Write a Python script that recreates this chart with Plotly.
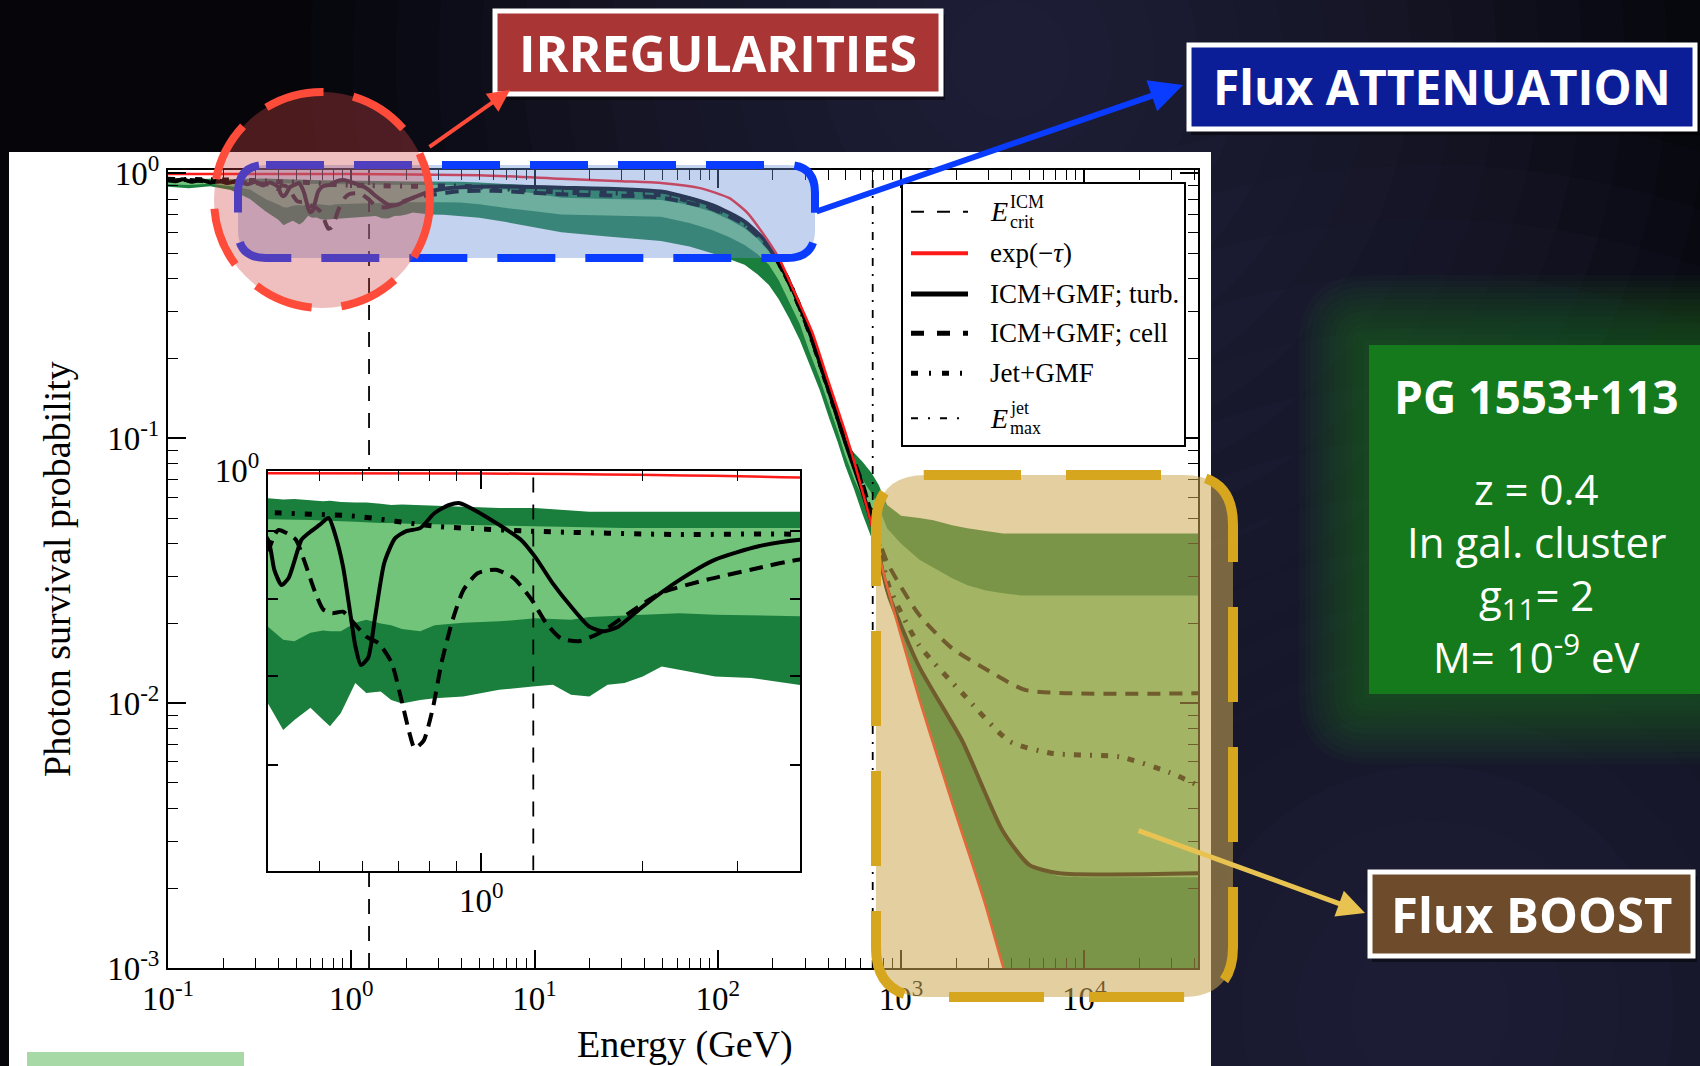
import numpy as np
import plotly.graph_objects as go

W, H = 1700, 1066

# ------------------------------------------------------------------ data
# photon survival probability bands (68% / 95%) vs energy [GeV]
E_band = [0.1, 0.13, 0.17, 0.22, 0.28, 0.34,
          0.40, 0.427, 0.448, 0.48, 0.507, 0.522, 0.547, 0.582, 0.61, 0.649,
          0.679, 0.711, 0.769, 0.818, 0.925, 1.08, 1.26, 1.36, 1.47, 1.59,
          1.72, 1.85, 2.0, 2.17, 2.34, 2.73, 3.19, 3.93,
          5, 7, 10, 14, 25, 49, 70, 93, 115, 140,
          165, 190, 215, 245, 280, 316, 360, 405, 450, 495,
          555, 614, 690, 755, 840, 1000, 1260, 1500, 1900, 2300,
          2900, 3600, 4500, 5500, 7300, 10000, 15000, 25000, 42000]
band95_hi = [0.955, 0.95, 0.955, 0.95, 0.955, 0.958,
             0.953, 0.951, 0.952, 0.95, 0.948, 0.949, 0.947, 0.946, 0.946, 0.944,
             0.942, 0.943, 0.942, 0.941, 0.94, 0.937, 0.937, 0.935, 0.932, 0.931,
             0.931, 0.931, 0.931, 0.932, 0.932, 0.932, 0.932, 0.931,
             0.925, 0.915, 0.90, 0.88, 0.868, 0.854, 0.82, 0.772, 0.72, 0.667,
             0.60, 0.537, 0.47, 0.396, 0.32, 0.253, 0.195, 0.15, 0.12, 0.097,
             0.088, 0.0817, 0.074, 0.0667, 0.056, 0.051, 0.050, 0.049, 0.047, 0.0457,
             0.0447, 0.0437, 0.0437, 0.0437, 0.0437, 0.0437, 0.0437, 0.0437, 0.0437]
band68_hi = [0.94, 0.935, 0.94, 0.935, 0.935, 0.93,
             0.919, 0.919, 0.918, 0.918, 0.917, 0.917, 0.916, 0.915, 0.914, 0.913,
             0.913, 0.912, 0.911, 0.911, 0.91, 0.909, 0.908, 0.907, 0.906, 0.906,
             0.905, 0.905, 0.905, 0.905, 0.905, 0.905, 0.905, 0.905,
             0.89, 0.87, 0.84, 0.81, 0.80, 0.794, 0.76, 0.717, 0.67, 0.621,
             0.565, 0.507, 0.445, 0.374, 0.305, 0.242, 0.187, 0.146, 0.117, 0.094,
             0.08, 0.07, 0.062, 0.055, 0.0456, 0.040, 0.0348, 0.0324, 0.0296, 0.0279,
             0.0266, 0.026, 0.0255, 0.0255, 0.0255, 0.0255, 0.0255, 0.0255, 0.0255]
band68_lo = [0.91, 0.905, 0.915, 0.895, 0.87, 0.80,
             0.763, 0.746, 0.744, 0.755, 0.758, 0.757, 0.757, 0.768, 0.772, 0.767,
             0.765, 0.76, 0.757, 0.765, 0.768, 0.77, 0.774, 0.773, 0.772, 0.776,
             0.777, 0.778, 0.779, 0.78, 0.781, 0.779, 0.778, 0.777,
             0.765, 0.74, 0.72, 0.70, 0.694, 0.687, 0.65, 0.612, 0.575, 0.537,
             0.495, 0.452, 0.395, 0.328, 0.27, 0.212, 0.168, 0.132, 0.107, 0.0865,
             0.07, 0.06, 0.048, 0.04, 0.028, 0.0195, 0.0135, 0.0108, 0.0082, 0.0064,
             0.0045, 0.0033, 0.0027, 0.00235, 0.00222, 0.0022, 0.0022, 0.0022, 0.0022]
band95_lo = [0.89, 0.88, 0.895, 0.865, 0.80, 0.72,
             0.668, 0.638, 0.649, 0.663, 0.649, 0.642, 0.657, 0.692, 0.68, 0.682,
             0.672, 0.668, 0.672, 0.674, 0.676, 0.684, 0.688, 0.69, 0.678, 0.676,
             0.69, 0.692, 0.70, 0.712, 0.708, 0.70, 0.698, 0.69,
             0.68, 0.655, 0.625, 0.60, 0.578, 0.556, 0.53, 0.50, 0.475, 0.452,
             0.415, 0.379, 0.335, 0.284, 0.235, 0.189, 0.152, 0.119, 0.097, 0.079,
             0.064, 0.052, 0.042, 0.034, 0.025, 0.0182, 0.0105, 0.0072, 0.0042, 0.0028,
             0.0017, 0.001, 0.0006, 0.0004, 0.0003, 0.0003, 0.0003, 0.0003, 0.0003]

# exp(-tau)
E_tau = [0.1, 1, 5, 14, 30, 49, 80, 115, 145, 174, 215, 260, 327, 400, 495, 562,
         680, 820, 1000, 1260, 1600, 1900, 2400, 2900, 3650, 4500]
P_tau = [0.996, 0.995, 0.985, 0.955, 0.935, 0.921, 0.88, 0.808, 0.71, 0.601, 0.48, 0.36,
         0.252, 0.165, 0.106, 0.079, 0.049, 0.0292, 0.0179, 0.0103, 0.0061, 0.0042,
         0.00257, 0.00171, 0.00098, 0.00063]

# ICM+GMF; turb.
E_turb = [0.1, 0.11, 0.12, 0.135, 0.15, 0.17, 0.19, 0.21, 0.24, 0.27, 0.30, 0.33, 0.36,
          0.40, 0.411, 0.424, 0.437, 0.462, 0.476, 0.499, 0.519, 0.535, 0.552,
          0.573, 0.582, 0.596, 0.615, 0.634, 0.659, 0.69, 0.723, 0.769, 0.818,
          0.871, 0.912, 0.97, 1.08, 1.185, 1.26, 1.36, 1.47, 1.59, 1.69,
          1.80, 2.0, 2.34, 2.73, 3.29, 3.93,
          6, 14, 49, 93, 140, 190, 245, 316, 405, 495,
          614, 713, 840, 1250, 2160, 3580, 5000, 7300, 42000]
P_turb = [0.945, 0.935, 0.95, 0.93, 0.945, 0.925, 0.94, 0.92, 0.935, 0.91, 0.93, 0.90, 0.925,
          0.887, 0.842, 0.82, 0.83, 0.887, 0.897, 0.91, 0.921, 0.892, 0.847,
          0.768, 0.738, 0.714, 0.723, 0.777, 0.852, 0.889, 0.90, 0.905, 0.929,
          0.942, 0.945, 0.934, 0.91, 0.887, 0.861, 0.822, 0.79, 0.763, 0.757,
          0.763, 0.79, 0.827, 0.857, 0.877, 0.887,
          0.893, 0.884, 0.854, 0.76, 0.658, 0.537, 0.39, 0.253, 0.15, 0.097,
          0.063, 0.0445, 0.0267, 0.0138, 0.00718, 0.0033, 0.00245, 0.00228, 0.00228]

# ICM+GMF; cell
E_cell = [0.1, 0.13, 0.17, 0.22, 0.28, 0.34, 0.37,
          0.40, 0.41, 0.418, 0.434, 0.451, 0.469, 0.488, 0.507, 0.527, 0.552,
          0.578, 0.61, 0.644, 0.68, 0.712, 0.734, 0.751, 0.78, 0.811, 0.843,
          0.884, 0.926, 0.984, 1.064, 1.149, 1.24, 1.32, 1.405, 1.52, 1.665,
          1.885, 2.165, 2.645, 3.18, 3.93,
          6, 14, 49, 93, 140, 190, 245, 316, 405, 495,
          614, 713, 840, 1250, 1900, 3150, 4800, 42000]
P_cell = [0.94, 0.945, 0.93, 0.935, 0.92, 0.915, 0.89,
          0.872, 0.892, 0.902, 0.897, 0.887, 0.852, 0.813, 0.786, 0.781, 0.783,
          0.768, 0.75, 0.741, 0.717, 0.668, 0.635, 0.618, 0.626, 0.661, 0.717,
          0.772, 0.813, 0.837, 0.842, 0.83, 0.80, 0.768, 0.748, 0.744, 0.755,
          0.781, 0.809, 0.828, 0.842, 0.857,
          0.86, 0.835, 0.81, 0.735, 0.64, 0.525, 0.385, 0.25, 0.15, 0.10,
          0.068, 0.047, 0.034, 0.0216, 0.0161, 0.013, 0.0112, 0.0109]

# Jet+GMF
E_jet = [0.1, 0.2, 0.3, 0.40, 0.58, 0.82, 1.26, 2.34, 3.93,
         14, 49, 93, 140, 190, 245, 316, 405, 495,
         614, 713, 860, 1250, 2160, 3900, 6700, 15600, 29000, 42000]
P_jet = [0.95, 0.945, 0.94, 0.93, 0.924, 0.908, 0.90, 0.895, 0.895,
         0.85, 0.83, 0.745, 0.645, 0.53, 0.388, 0.252, 0.15, 0.099,
         0.066, 0.047, 0.0275, 0.0166, 0.0109, 0.00718, 0.00646, 0.00627, 0.00548, 0.00488]

E_crit_ICM = 1.25      # GeV
E_max_jet = 700.0      # GeV

x_ticks = [0.1, 1, 10, 100, 1000, 10000]
x_ticktext = ["10<sup>-1</sup>", "10<sup>0</sup>", "10<sup>1</sup>", "10<sup>2</sup>",
              "10<sup>3</sup>", "10<sup>4</sup>"]
y_ticks = [0.001, 0.01, 0.1, 1]
y_ticktext = ["10<sup>-3</sup>", "10<sup>-2</sup>", "10<sup>-1</sup>", "10<sup>0</sup>"]

legend_labels = ["crit", "exp(\u2212<i>\u03c4</i>)", "ICM+GMF; turb.",
                 "ICM+GMF; cell", "Jet+GMF", "max"]

# ------------------------------------------------------------------ layout helpers
def px(x):
    return x / W


def py(y):
    return 1 - y / H


XR = [-1, 4.62]
YR = [-3, 0.013]
IXR = [np.log10(0.4), np.log10(3.93)]
IYR = [np.log10(0.5), 0.0]

DARK = "#1a7f3c"
LIGHT = "#72c47a"
SERIF = "Liberation Serif"
SANS = "Open Sans"

fig = go.Figure()


def add_set(xa, ya, lw, celldash, jetdash, vlines):
    common = dict(xaxis=xa, yaxis=ya, hoverinfo="skip", showlegend=False)
    fig.add_trace(go.Scatter(x=E_band, y=band95_lo, mode="lines",
                             line=dict(width=0, color=DARK), **common))
    fig.add_trace(go.Scatter(x=E_band, y=band95_hi, mode="lines", fill="tonexty",
                             fillcolor=DARK, line=dict(width=0, color=DARK), **common))
    fig.add_trace(go.Scatter(x=E_band, y=band68_lo, mode="lines",
                             line=dict(width=0, color=LIGHT), **common))
    fig.add_trace(go.Scatter(x=E_band, y=band68_hi, mode="lines", fill="tonexty",
                             fillcolor=LIGHT, line=dict(width=0, color=LIGHT), **common))
    for xv, dash in vlines:
        yr = YR if ya == "y" else IYR
        fig.add_trace(go.Scatter(x=[xv, xv], y=[10 ** yr[0], 10 ** yr[1]], mode="lines",
                                 line=dict(color="black", width=1.8, dash=dash), **common))
    fig.add_trace(go.Scatter(x=E_jet, y=P_jet, mode="lines",
                             line=dict(color="black", width=lw + 1, dash=jetdash,
                                       shape="spline", smoothing=0.6), **common))
    fig.add_trace(go.Scatter(x=E_cell, y=P_cell, mode="lines",
                             line=dict(color="black", width=lw, dash=celldash,
                                       shape="spline", smoothing=0.6), **common))
    fig.add_trace(go.Scatter(x=E_turb, y=P_turb, mode="lines",
                             line=dict(color="black", width=lw,
                                       shape="spline", smoothing=0.6), **common))
    fig.add_trace(go.Scatter(x=E_tau, y=P_tau, mode="lines",
                             line=dict(color="#ff1a1a", width=2.5,
                                       shape="spline", smoothing=0.6), **common))


add_set("x", "y", 4, "13px,9px", "7px,9px,2px,9px",
        [(E_crit_ICM, "15px,12px"), (E_max_jet, "8px,8px,2px,8px")])
add_set("x2", "y2", 4, "14px,8px", "7px,10px,3px,10px",
        [(E_crit_ICM, "15px,12px")])

minor_main_x = [m * 10.0 ** d for d in range(-1, 5) for m in range(2, 10)]
minor_main_y = [m * 10.0 ** d for d in range(-3, 0) for m in range(2, 10)]
tickfont = dict(family=SERIF, size=33, color="black")
ax_common = dict(type="log", showgrid=False, zeroline=False, showline=True,
                 linecolor="black", linewidth=2, mirror="ticks", ticks="inside",
                 tickcolor="black", tickwidth=1.5, tickfont=tickfont, tickmode="array",
                 automargin=False)

fig.update_layout(
    width=W, height=H, autosize=False,
    margin=dict(l=0, r=0, t=0, b=0, pad=0, autoexpand=False),
    paper_bgcolor="#05050a", plot_bgcolor="white",
    showlegend=False,
    xaxis=dict(**ax_common, domain=[px(168), px(1198)], range=XR, anchor="y",
               tickvals=x_ticks, ticktext=x_ticktext, ticklen=18,
               minor=dict(ticks="inside", ticklen=10, tickmode="array",
                          tickvals=minor_main_x, tickcolor="black", tickwidth=1.2)),
    yaxis=dict(**ax_common, domain=[py(968), py(170)], range=YR, anchor="x",
               tickvals=y_ticks, ticktext=y_ticktext, ticklen=18,
               minor=dict(ticks="inside", ticklen=10, tickmode="array",
                          tickvals=minor_main_y, tickcolor="black", tickwidth=1.2)),
    xaxis2=dict(**ax_common, domain=[px(268), px(800)], range=IXR, anchor="y2",
                tickvals=[1], ticktext=["10<sup>0</sup>"], ticklen=18,
                minor=dict(ticks="inside", ticklen=10, tickmode="array",
                           tickvals=[0.4, 0.5, 0.6, 0.7, 0.8, 0.9, 2, 3],
                           tickcolor="black", tickwidth=1.2)),
    yaxis2=dict(**ax_common, domain=[py(870.6), py(470.5)], range=IYR, anchor="x2",
                tickvals=[0.6, 0.7, 0.8, 0.9, 1.0], ticktext=["", "", "", "", "10<sup>0</sup>"],
                ticklen=10),
)

# ------------------------------------------------------------------ shapes
shapes = []


def rect(x0, y0, x1, y1, fill, line=None, lw=0, layer="above", dash=None):
    d = dict(type="rect", xref="paper", yref="paper", x0=px(x0), x1=px(x1),
             y0=py(y1), y1=py(y0), fillcolor=fill, layer=layer,
             line=dict(width=lw, color=line or fill))
    if dash:
        d["line"]["dash"] = dash
    shapes.append(d)


def rrect_path(x0, y0, x1, y1, r):
    P = lambda x, y: f"{px(x):.5f},{py(y):.5f}"
    return (f"M{P(x0 + r, y0)} L{P(x1 - r, y0)} Q{P(x1, y0)} {P(x1, y0 + r)} "
            f"L{P(x1, y1 - r)} Q{P(x1, y1)} {P(x1 - r, y1)} L{P(x0 + r, y1)} "
            f"Q{P(x0, y1)} {P(x0, y1 - r)} L{P(x0, y0 + r)} Q{P(x0, y0)} {P(x0 + r, y0)} Z")


def circ(cx, cy, r, fill, line=None, lw=0, layer="below", dash=None):
    d = dict(type="circle", xref="paper", yref="paper", x0=px(cx - r), x1=px(cx + r),
             y0=py(cy + r), y1=py(cy - r), fillcolor=fill, layer=layer,
             line=dict(width=lw, color=line or "rgba(0,0,0,0)"))
    if dash:
        d["line"]["dash"] = dash
    shapes.append(d)


# smooth background glows
for r in np.linspace(700, 60, 16):
    circ(1010, 60, r, "rgba(58,54,100,0.05)")
for r in np.linspace(900, 80, 16):
    circ(1430, 1010, r, "rgba(58,54,100,0.055)")
# green glow around info box
for g in np.linspace(70, 5, 12):
    shapes.append(dict(type="path", xref="paper", yref="paper", layer="below",
                       path=rrect_path(1369 - g, 345 - g, 1700 + g, 694 + g, g),
                       fillcolor="rgba(30,125,30,0.06)", line=dict(width=0)))
# white panel behind plot
rect(9, 152, 1211, 1066, "white", layer="below")
rect(27, 1052, 244, 1066, "#a6d9a6", layer="below")
# info box
rect(1369, 345, 1700, 694, "#147a1c", layer="below")

# legend box
rect(902, 183, 1185, 446, "white", line="black", lw=2)
leg_rows = [211.7, 253.3, 294.0, 333.3, 373.3, 418.3]
leg_styles = [("black", 2, "13px,13px"), ("#ff1a1a", 4, "solid"), ("black", 5, "solid"),
              ("black", 5, "13px,13px"), ("black", 5, "7px,11px,2px,11px"),
              ("black", 2, "7px,10px,2px,10px")]
for yrow, (c, w_, dsh) in zip(leg_rows, leg_styles):
    shapes.append(dict(type="line", xref="paper", yref="paper", x0=px(911), x1=px(968),
                       y0=py(yrow), y1=py(yrow), layer="above",
                       line=dict(color=c, width=w_, dash=dsh)))

# highlight overlays
shapes.append(dict(type="path", xref="paper", yref="paper", layer="above",
                   path=rrect_path(238, 165, 815, 258, 28),
                   fillcolor="rgba(105,142,212,0.40)",
                   line=dict(color="#0a3cff", width=8, dash="58px,30px")))
circ(322, 200, 108, "rgba(210,68,68,0.35)", line="#ff4b3a", lw=8, layer="above",
     dash="60px,30px")
shapes.append(dict(type="path", xref="paper", yref="paper", layer="above",
                   path=rrect_path(876, 475, 1233, 997, 50),
                   fillcolor="rgba(204,168,82,0.55)",
                   line=dict(color="#d6a61f", width=10, dash="95px,45px")))

# label boxes (with soft drop shadow)
for (x0, y0, x1, y1, fill) in [(495, 11, 941, 94, "#a93535"),
                               (1189, 45, 1695, 129, "#0b1e98"),
                               (1370, 872, 1693, 956, "#6e4b2b")]:
    rect(x0 + 2, y0 + 4, x1 + 4, y1 + 6, "rgba(0,0,0,0.45)")
    rect(x0, y0, x1, y1, fill, line="white", lw=5)

fig.update_layout(shapes=shapes)

# ------------------------------------------------------------------ annotations
ann = []


def text(x, y, s, size, color="white", family=SANS, xanchor="center", weight=None,
         angle=0):
    f = dict(family=family, size=size, color=color)
    if weight:
        f["weight"] = weight
    ann.append(dict(x=px(x), y=py(y), xref="paper", yref="paper", text=s, showarrow=False,
                    font=f, xanchor=xanchor, yanchor="middle", textangle=angle))


def arrow(x0, y0, x1, y1, color, width):
    ann.append(dict(x=px(x1), y=py(y1), ax=x0 - x1, ay=y0 - y1, xref="paper", yref="paper",
                    axref="pixel", ayref="pixel", text="", showarrow=True,
                    arrowhead=2, arrowsize=1.1, arrowwidth=width, arrowcolor=color))


text(718, 53, "IRREGULARITIES", 50, weight=700)
text(1442, 87, "Flux ATTENUATION", 48, weight=700)
text(1531, 914, "Flux BOOST", 49, weight=700)

text(1536, 396, "PG 1553+113", 46, weight=700)
text(1536, 488, "z = 0.4", 42)
text(1536, 541, "In gal. cluster", 42)
text(1536, 597, "g<sub>11</sub>= 2", 42)
text(1536, 654, "M= 10<sup>-9</sup> eV", 42)

# axis titles
text(685, 1044, "Energy (GeV)", 38, color="black", family=SERIF)
text(57, 569, "Photon survival probability", 38, color="black", family=SERIF, angle=-90)

# legend text
text(988, 211.7, "<i>E</i>", 28, color="black", family=SERIF, xanchor="left")
text(1008, 202, "ICM", 18, color="black", family=SERIF, xanchor="left")
text(1008, 222, legend_labels[0], 18, color="black", family=SERIF, xanchor="left")
for yrow, lab in zip(leg_rows[1:5], legend_labels[1:5]):
    text(988, yrow, lab, 27, color="black", family=SERIF, xanchor="left")
text(988, 418.3, "<i>E</i>", 28, color="black", family=SERIF, xanchor="left")
text(1008, 408, "jet", 18, color="black", family=SERIF, xanchor="left")
text(1008, 428, legend_labels[5], 18, color="black", family=SERIF, xanchor="left")

arrow(428, 148, 510, 90, "#ff4b3a", 4)
arrow(815, 212, 1183, 85, "#0a3cff", 6)
arrow(1137, 830, 1365, 913, "#e9c352", 5)

fig.update_layout(annotations=ann)

fig.write_html("out.html", include_plotlyjs=True, full_html=True,
               config={"displayModeBar": False},
               post_script="document.body.style.margin='0';document.body.style.overflow='hidden';")
